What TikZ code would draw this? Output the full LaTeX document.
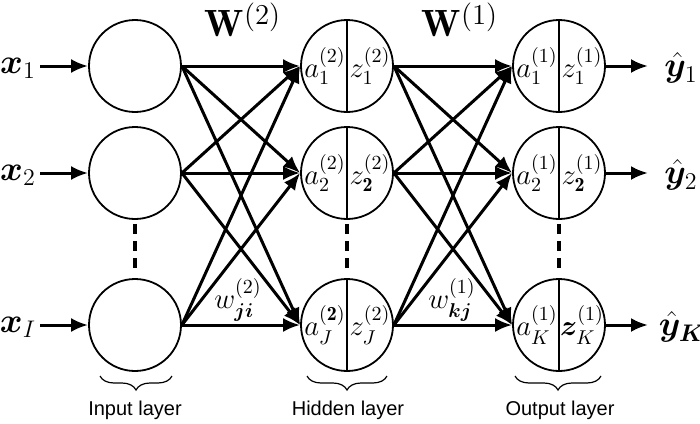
\documentclass[tikz,border=0pt]{standalone}
\usepackage{amsmath,bm}
\usepackage{fontspec}
\setsansfont{Liberation Sans}
\usetikzlibrary{arrows.meta,decorations.pathreplacing}
\begin{document}
\begin{tikzpicture}[x=0.5pt,y=-0.5pt,
  neuron/.style={circle,draw,line width=0.9pt,minimum size=46pt,inner sep=0pt},
  conn/.style={line width=1.5pt,-{Latex[length=8.5pt,width=7pt]}},
  dots/.style={line width=2pt,dash pattern=on 5pt off 3.5pt,shorten <=2pt,shorten >=3pt},
  divider/.style={line width=0.6pt},
  lab/.style={inner sep=0pt,font=\Large},
  io/.style={inner sep=0pt,font=\LARGE},
  big/.style={inner sep=0pt,font=\fontsize{19}{22}\selectfont},
  layerlab/.style={inner sep=0pt,font=\sffamily\fontsize{10}{12}\selectfont},
  brc/.style={line width=0.6pt,decorate,decoration={brace,mirror,amplitude=7pt}}]
\useasboundingbox (0,0) rectangle (700,423);

% input layer
\node[neuron] (i1) at (135,66) {};
\node[neuron] (i2) at (135,173) {};
\node[neuron] (i3) at (135,325) {};
% hidden layer
\node[neuron] (h1) at (347,66) {};
\node[neuron] (h2) at (347,173) {};
\node[neuron] (h3) at (347,325) {};
% output layer
\node[neuron] (o1) at (559,66) {};
\node[neuron] (o2) at (559,173) {};
\node[neuron] (o3) at (559,325) {};

\foreach \n in {h1,h2,h3,o1,o2,o3}
  \draw[divider] (\n.north) -- (\n.south);

% labels inside neurons
\node[lab] (ha1) at (325,66) {$a_1^{(2)}$};
\node[lab] (hz1) at (370,66) {$z_1^{(2)}$};
\node[lab] (ha2) at (325,173) {$a_2^{(2)}$};
\node[lab] (hz2) at (370,173) {$z_{\mathbf{2}}^{(2)}$};
\node[lab] (ha3) at (325,325) {$a_J^{(\mathbf{2})}$};
\node[lab] (hz3) at (370,325) {$z_J^{(2)}$};
\node[lab] (oa1) at (537,66) {$a_1^{(1)}$};
\node[lab] (oz1) at (582,66) {$z_1^{(1)}$};
\node[lab] (oa2) at (537,173) {$a_2^{(1)}$};
\node[lab] (oz2) at (582,173) {$z_{\mathbf{2}}^{(1)}$};
\node[lab] (oa3) at (537,325) {$a_K^{(1)}$};
\node[lab] (oz3) at (582,325) {$\bm{z}_K^{(1)}$};

% connections
\foreach \a in {i1,i2,i3}
  \foreach \b in {h1,h2,h3}
    \draw[conn] (\a.east) -- (\b.west);
\foreach \a in {h1,h2,h3}
  \foreach \b in {o1,o2,o3}
    \draw[conn] (\a.east) -- (\b.west);

% inputs
\node[io] (x1) at (18,68) {$\bm{x}_1$};
\node[io] (x2) at (18,175) {$\bm{x}_2$};
\node[io] (x3) at (18,327) {$\bm{x}_I$};
\coordinate (xs1) at (40,66);
\coordinate (xs2) at (40,173);
\coordinate (xs3) at (40,325);
\draw[conn] (xs1) -- (i1.west);
\draw[conn] (xs2) -- (i2.west);
\draw[conn] (xs3) -- (i3.west);

% outputs
\coordinate (ye1) at (648,66);
\coordinate (ye2) at (648,173);
\coordinate (ye3) at (648,325);
\draw[conn] (o1.east) -- (ye1);
\draw[conn] (o2.east) -- (ye2);
\draw[conn] (o3.east) -- (ye3);
\node[io] (y1) at (681,68) {$\hat{\bm{y}}_1$};
\node[io] (y2) at (681,175) {$\hat{\bm{y}}_2$};
\node[io] (y3) at (682,327) {$\hat{\bm{y}}_{\bm{K}}$};

% dashed continuation
\draw[dots] (i2.south) -- (i3.north);
\draw[dots] (h2.south) -- (h3.north);
\draw[dots] (o2.south) -- (o3.north);

% weight labels
\node[big] (W2) at (243,20) {$\mathbf{W}^{(2)}$};
\node[big] (W1) at (460,20) {$\mathbf{W}^{(1)}$};
\node[lab] (w2) at (238,300) {$w_{\bm{ji}}^{(2)}$};
\node[lab] (w1) at (452,300) {$w_{\bm{kj}}^{(1)}$};

% braces and layer names
\draw[brc] (100,376) -- (172,376);
\draw[brc] (307,376) -- (387,376);
\draw[brc] (515,376) -- (601,376);
\node[layerlab] (L1) at (135,410) {Input layer};
\node[layerlab] (L2) at (348,410) {Hidden layer};
\node[layerlab] (L3) at (560,410) {Output layer};
\end{tikzpicture}
\end{document}
